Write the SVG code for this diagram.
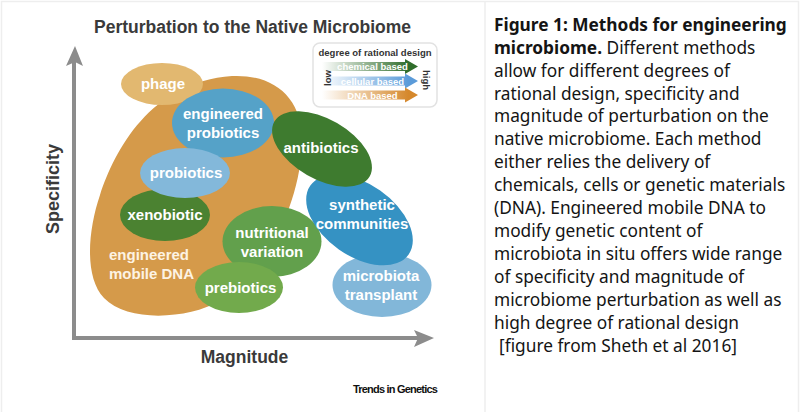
<svg xmlns="http://www.w3.org/2000/svg" width="800" height="412" viewBox="0 0 800 412">
<defs>
<style>
.lbl{font-family:"Liberation Sans",Arial,sans-serif;font-weight:bold;font-size:15px;fill:#ffffff;text-anchor:middle}
.ax{font-family:"Liberation Sans",Arial,sans-serif;font-weight:bold;fill:#3a3a3a}
.leg{font-family:"Liberation Sans",Arial,sans-serif;font-weight:bold;font-size:9.5px}
.cap{font-family:"Noto Sans",sans-serif;font-size:17.3px;fill:#141414}
.b{font-weight:bold}
</style>
<linearGradient id="gChem" x1="322" y1="0" x2="418" y2="0" gradientUnits="userSpaceOnUse"><stop offset="0" stop-color="#ffffff"/><stop offset="0.9" stop-color="#2f6d2b"/></linearGradient>
<linearGradient id="gCell" x1="322" y1="0" x2="418" y2="0" gradientUnits="userSpaceOnUse"><stop offset="0" stop-color="#ffffff"/><stop offset="0.9" stop-color="#5b9bd9"/></linearGradient>
<linearGradient id="gDna" x1="322" y1="0" x2="418" y2="0" gradientUnits="userSpaceOnUse"><stop offset="0" stop-color="#ffffff"/><stop offset="0.9" stop-color="#d5882c"/></linearGradient>
</defs>
<rect x="0" y="0" width="800" height="412" fill="#ffffff"/>
<rect x="1.5" y="1.5" width="797" height="412" fill="none" stroke="#eeeeee" stroke-width="1.5"/>
<line x1="485" y1="1.5" x2="485" y2="412" stroke="#eeeeee" stroke-width="1.5"/>

<text class="ax" x="252.5" y="33" font-size="17.5" text-anchor="middle">Perturbation to the Native Microbiome</text>

<g id="axes">
<line x1="74" y1="62" x2="74" y2="338" stroke="#8c8c8c" stroke-width="4"/>
<line x1="72" y1="338" x2="418" y2="338" stroke="#8c8c8c" stroke-width="4"/>
<polygon points="75,46 83,66 75,62 66,66" fill="#8c8c8c"/>
<polygon points="434,338 414,330 418,338 414,347" fill="#8c8c8c"/>
</g>
<text class="ax" font-size="18" text-anchor="middle" transform="translate(59,189) rotate(-90)">Specificity</text>
<text class="ax" x="244.5" y="363" font-size="17.5" text-anchor="middle">Magnitude</text>
<text x="353" y="393" font-family="Liberation Sans,Arial,sans-serif" font-weight="bold" font-size="11" letter-spacing="-0.8" fill="#111">Trends in Genetics</text>

<g id="engineered-mobile-dna">
<path d="M232,76 C276,74 303,100 302,142 C301,200 268,272 220,301 C188,319 128,323 104,298 C84,277 88,230 100,195 C115,150 150,82 232,76 Z" fill="#d59a4a"/>
<text class="lbl" x="109" y="260" style="text-anchor:start;fill:#fdf3e3">engineered</text>
<text class="lbl" x="109" y="279" style="text-anchor:start;fill:#fdf3e3">mobile DNA</text>
</g>
<g id="phage">
<ellipse cx="162" cy="84" rx="41" ry="21" fill="#e2b870"/>
<text class="lbl" x="163" y="89">phage</text>
</g>
<g id="engineered-probiotics">
<ellipse cx="223" cy="123" rx="51" ry="34.5" fill="#55a2c8"/>
<text class="lbl" x="223" y="119">engineered</text>
<text class="lbl" x="223" y="138">probiotics</text>
</g>
<g id="xenobiotic">
<ellipse cx="165" cy="215" rx="45" ry="26" fill="#4b8231"/>
<text class="lbl" x="165" y="220">xenobiotic</text>
</g>
<g id="probiotics">
<ellipse cx="185" cy="173" rx="45" ry="25" fill="#83b8da"/>
<text class="lbl" x="186" y="178">probiotics</text>
</g>
<g id="nutritional-variation">
<ellipse cx="272" cy="241.5" rx="49.5" ry="35.5" fill="#62a04c"/>
<text class="lbl" x="272" y="238">nutritional</text>
<text class="lbl" x="272" y="257">variation</text>
</g>
<g id="prebiotics">
<ellipse cx="239" cy="287.5" rx="44" ry="25.5" fill="#72aa4c"/>
<text class="lbl" x="240.5" y="293">prebiotics</text>
</g>
<g id="microbiota-transplant">
<ellipse cx="382" cy="285" rx="49.5" ry="32" fill="#82b7d9"/>
<text class="lbl" x="381" y="281">microbiota</text>
<text class="lbl" x="381" y="300">transplant</text>
</g>
<g id="synthetic-communities">
<ellipse cx="0" cy="0" rx="60" ry="36" fill="#3592c3" transform="translate(359.5,220) rotate(35)"/>
<text class="lbl" x="362" y="210">synthetic</text>
<text class="lbl" x="362" y="229">communities</text>
</g>
<g id="antibiotics">
<ellipse cx="0" cy="0" rx="55" ry="30" fill="#3e7b2f" transform="translate(322,149) rotate(30)"/>
<text class="lbl" x="321" y="153">antibiotics</text>
</g>

<g id="legend">
<rect x="313" y="43" width="124" height="64" rx="7" fill="#ffffff" stroke="#e2e2e2" stroke-width="1.5"/>
<text class="leg" x="375" y="56" fill="#333" text-anchor="middle">degree of rational design</text>
<polygon points="322,62 405,62 405,59 418,66.5 405,74 405,71 322,71" fill="url(#gChem)"/>
<polygon points="322,76.5 405,76.5 405,73.5 418,81 405,88.5 405,85.5 322,85.5" fill="url(#gCell)"/>
<polygon points="322,90.5 405,90.5 405,87.5 418,95 405,102.5 405,99.5 322,99.5" fill="url(#gDna)"/>
<text class="leg" x="372.5" y="70" fill="#ffffff" text-anchor="middle">chemical based</text>
<text class="leg" x="372.5" y="84.5" fill="#ffffff" text-anchor="middle">cellular based</text>
<text class="leg" x="372.5" y="98.5" fill="#ffffff" text-anchor="middle">DNA based</text>
<text class="leg" fill="#333" text-anchor="middle" transform="translate(330.5,78) rotate(-90)">low</text>
<text class="leg" fill="#333" text-anchor="middle" transform="translate(423,80) rotate(90)">high</text>
</g>

<g id="caption">
<text class="cap" x="494" y="30.7"><tspan class="b">Figure 1: Methods for engineering</tspan></text>
<text class="cap" x="494" y="53.6"><tspan class="b">microbiome.</tspan> Different methods</text>
<text class="cap" x="494" y="76.6">allow for different degrees of</text>
<text class="cap" x="494" y="99.5">rational design, specificity and</text>
<text class="cap" x="494" y="122.4">magnitude of perturbation on the</text>
<text class="cap" x="494" y="145.4">native microbiome. Each method</text>
<text class="cap" x="494" y="168.3">either relies the delivery of</text>
<text class="cap" x="494" y="191.2">chemicals, cells or genetic materials</text>
<text class="cap" x="494" y="214.1">(DNA). Engineered mobile DNA to</text>
<text class="cap" x="494" y="237.1">modify genetic content of</text>
<text class="cap" x="494" y="260">microbiota in situ offers wide range</text>
<text class="cap" x="494" y="282.9">of specificity and magnitude of</text>
<text class="cap" x="494" y="305.9">microbiome perturbation as well as</text>
<text class="cap" x="494" y="328.8">high degree of rational design</text>
<text class="cap" x="499" y="351.7">[figure from Sheth et al 2016]</text>
</g>
</svg>
